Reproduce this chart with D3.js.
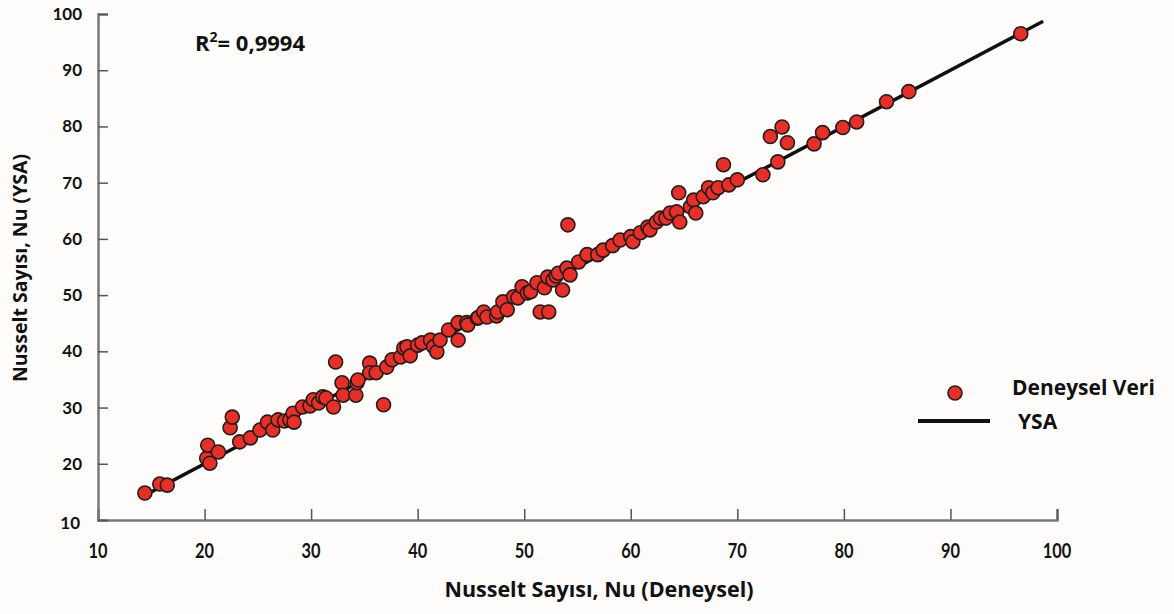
<!DOCTYPE html>
<html>
<head>
<meta charset="utf-8">
<script src="https://cdn.jsdelivr.net/npm/d3@7"></script>
<style>
  body { margin: 0; background: #fefdfc; }
  svg { display: block; font-family: Lato, "Open Sans", sans-serif; }
  .label { font-family: "Open Sans", Lato, sans-serif; }
</style>
</head>
<body>
<div class="chart"></div>
<script>
// experimental Nu (x) vs ANN predicted Nu (y)
const nuDeneysel = [
  14.4, 15.8, 16.5, 20.2, 20.5, 20.3, 21.3, 22.4, 22.6, 23.3,
  24.3, 25.2, 25.9, 26.4, 26.9, 27.5, 28.0, 28.3, 28.4, 29.2,
  29.9, 30.2, 30.7, 31.1, 31.4, 32.1, 32.3, 32.9, 33.0, 34.2,
  34.3, 34.4, 35.5, 35.5, 36.1, 36.8, 37.1, 37.6, 38.4, 38.7,
  39.0, 39.3, 40.0, 40.4, 41.2, 41.5, 41.8, 42.1, 42.9, 43.8,
  43.8, 44.6, 44.7, 45.6, 45.7, 46.2, 46.5, 47.4, 47.5, 48.0,
  48.4, 49.0, 49.4, 49.8, 50.3, 50.6, 51.2, 51.5, 51.9, 52.2,
  52.3, 52.7, 53.0, 53.2, 53.6, 54.0, 54.3, 54.1, 55.1, 55.9,
  56.9, 57.4, 58.3, 59.0, 60.0, 60.2, 60.9, 61.6, 61.8, 62.4,
  62.8, 63.3, 63.7, 64.3, 64.5, 64.6, 65.6, 65.9, 66.1, 66.8,
  67.3, 67.7, 68.2, 68.7, 69.2, 70.0, 72.4, 73.1, 73.8, 74.2,
  74.7, 77.2, 78.0, 79.9, 81.2, 84.0, 86.1, 96.6
];
const nuYSA = [
  14.8, 16.4, 16.2, 21.0, 20.1, 23.3, 22.1, 26.4, 28.3, 23.9,
  24.6, 26.0, 27.4, 26.0, 27.8, 27.6, 27.8, 29.0, 27.4, 30.1,
  30.3, 31.4, 30.8, 31.9, 31.7, 30.1, 38.1, 34.4, 32.2, 32.2,
  34.4, 34.9, 37.9, 36.2, 36.2, 30.5, 37.2, 38.5, 39.0, 40.6,
  40.8, 39.2, 41.1, 41.5, 42.0, 40.8, 39.9, 42.0, 43.8, 45.1,
  42.0, 45.1, 44.7, 45.9, 46.0, 47.0, 46.1, 46.3, 47.0, 48.8,
  47.4, 49.7, 49.5, 51.5, 50.4, 50.6, 52.2, 47.0, 51.3, 53.2,
  47.0, 52.7, 53.4, 53.9, 50.9, 54.8, 53.6, 62.5, 55.9, 57.2,
  57.2, 58.0, 58.8, 59.8, 60.4, 59.5, 61.1, 62.1, 61.6, 63.0,
  63.7, 63.7, 64.6, 64.8, 68.2, 63.0, 65.7, 66.9, 64.6, 67.5,
  69.1, 68.2, 69.1, 73.2, 69.6, 70.5, 71.4, 78.2, 73.7, 79.9,
  77.1, 76.9, 78.9, 79.8, 80.8, 84.4, 86.2, 96.5
];
const fitLine = [14.2, 98.7];
const xTicks = [10, 20, 30, 40, 50, 60, 70, 80, 90, 100];
const yTicks = [10, 20, 30, 40, 50, 60, 70, 80, 90, 100];

const width = 1174, height = 614;
const plotLeft = 98, plotRight = 1057, plotTop = 14, plotBottom = 520;

const svg = d3.select(".chart").append("svg")
  .attr("width", width)
  .attr("height", height);

const x = d3.scaleLinear().domain([10, 100]).range([plotLeft, plotRight]);
const y = d3.scaleLinear().domain([10, 100]).range([plotBottom, plotTop]);

// x axis, ticks pointing up into the plot
const xAxis = svg.append("g")
  .attr("transform", "translate(0," + plotBottom + ")")
  .call(d3.axisTop(x).tickValues(xTicks).tickSize(11).tickFormat(""));
xAxis.select(".domain").attr("stroke", "#7a7a7a").attr("stroke-width", 2.5);
xAxis.selectAll(".tick line").attr("stroke", "#555").attr("stroke-width", 1.5);

svg.append("g").selectAll("text")
  .data(xTicks)
  .join("text")
  .attr("x", (d) => x(d))
  .attr("y", 558)
  .attr("text-anchor", "middle")
  .attr("font-size", 20)
  .attr("font-weight", 700)
  .attr("fill", "#111")
  .attr("transform", (d) => "translate(" + x(d) * 0.18 + ",0) scale(0.82,1)")
  .text((d) => d);

// y axis, ticks pointing right
const yAxis = svg.append("g")
  .attr("transform", "translate(" + plotLeft + ",0)")
  .call(d3.axisRight(y).tickValues(yTicks).tickSize(10).tickFormat(""));
yAxis.select(".domain").attr("stroke", "#7a7a7a").attr("stroke-width", 2.5);
yAxis.selectAll(".tick line").attr("stroke", "#555").attr("stroke-width", 1.5);

svg.append("g").selectAll("text")
  .data(yTicks)
  .join("text")
  .attr("x", (d) => (d === 10 ? 80 : 82))
  .attr("y", (d) => y(d) + (d === 10 ? 9 : 6))
  .attr("text-anchor", "end")
  .attr("font-size", 17)
  .attr("font-weight", 700)
  .attr("fill", "#111")
  .text((d) => d);

// axis titles
svg.append("text")
  .attr("class", "label")
  .attr("x", 599)
  .attr("y", 597)
  .attr("text-anchor", "middle")
  .attr("font-size", 21.5)
  .attr("font-weight", 700)
  .attr("fill", "#111")
  .text("Nusselt Sayısı, Nu (Deneysel)");

svg.append("text")
  .attr("class", "label")
  .attr("transform", "translate(27,268) rotate(-90)")
  .attr("text-anchor", "middle")
  .attr("font-size", 19.5)
  .attr("font-weight", 700)
  .attr("fill", "#111")
  .text("Nusselt Sayısı, Nu (YSA)");

// fitted line
svg.append("line")
  .attr("x1", x(fitLine[0]))
  .attr("y1", y(fitLine[0]))
  .attr("x2", x(fitLine[1]))
  .attr("y2", y(fitLine[1]))
  .attr("stroke", "#111")
  .attr("stroke-width", 3.5);

// experimental points
svg.append("g").selectAll("circle")
  .data(d3.zip(nuDeneysel, nuYSA))
  .join("circle")
  .attr("cx", (d) => x(d[0]))
  .attr("cy", (d) => y(d[1]))
  .attr("r", 7)
  .attr("fill", "#e5302a")
  .attr("stroke", "#2a1a18")
  .attr("stroke-width", 1.6);

// R2 label
const r2 = svg.append("text")
  .attr("class", "label")
  .attr("x", 195)
  .attr("y", 51)
  .attr("font-size", 22)
  .attr("font-weight", 700)
  .attr("fill", "#111");
r2.append("tspan").text("R");
r2.append("tspan").attr("dy", -9).attr("font-size", 14).text("2");
r2.append("tspan").attr("dy", 9).text("= 0,9994");

// legend
svg.append("circle")
  .attr("cx", 955)
  .attr("cy", 393)
  .attr("r", 7)
  .attr("fill", "#e5302a")
  .attr("stroke", "#2a1a18")
  .attr("stroke-width", 1.6);

svg.append("text")
  .attr("class", "label")
  .attr("x", 1012)
  .attr("y", 395)
  .attr("font-size", 21)
  .attr("font-weight", 700)
  .attr("fill", "#111")
  .text("Deneysel Veri");

svg.append("line")
  .attr("x1", 918)
  .attr("x2", 990)
  .attr("y1", 421)
  .attr("y2", 421)
  .attr("stroke", "#111")
  .attr("stroke-width", 4);

svg.append("text")
  .attr("class", "label")
  .attr("x", 1018)
  .attr("y", 429)
  .attr("font-size", 21)
  .attr("font-weight", 700)
  .attr("fill", "#111")
  .text("YSA");
</script>
</body>
</html>
